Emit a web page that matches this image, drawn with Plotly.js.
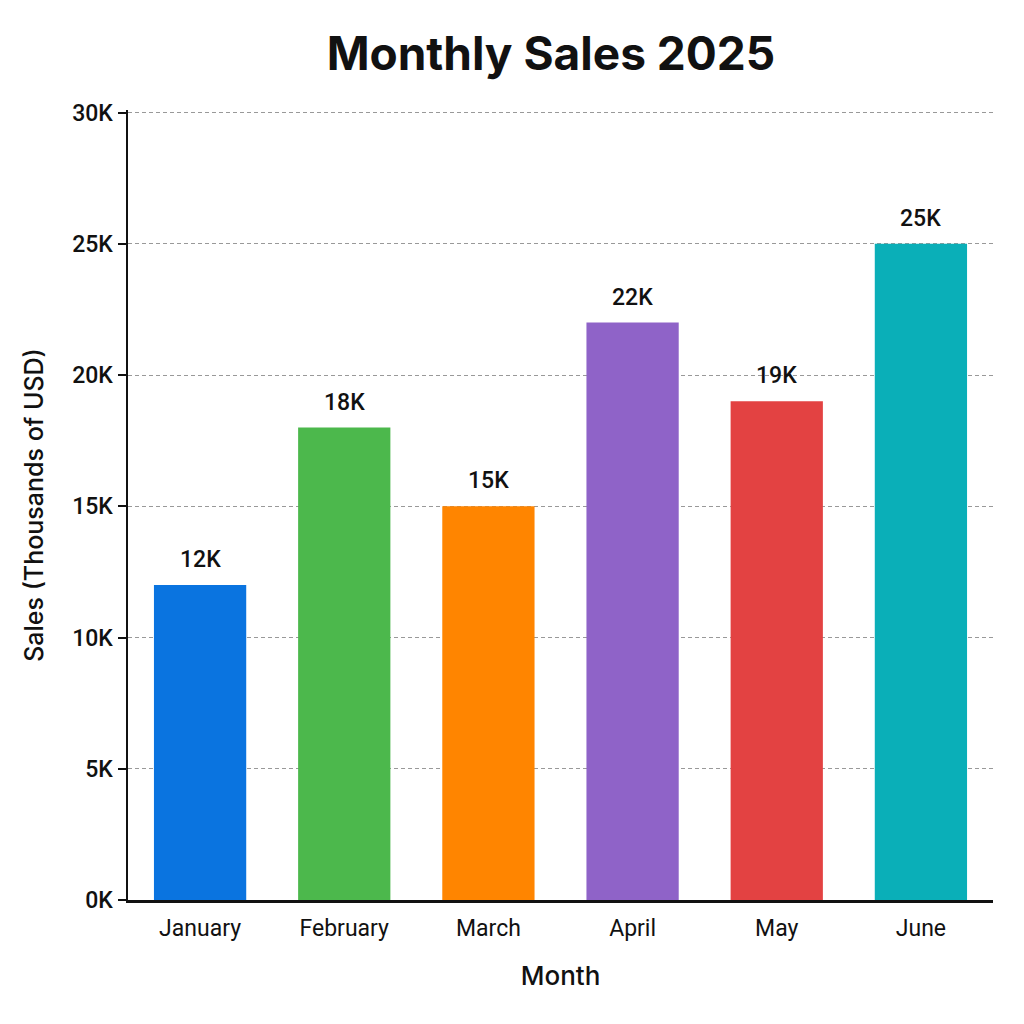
<!DOCTYPE html>
<html><head><meta charset="utf-8">
<script src="https://cdn.plot.ly/plotly-3.0.1.min.js"></script>
<style>html,body{margin:0;padding:0;background:#fff}#chart{width:1024px;height:1024px}</style>
</head><body><div id="chart"></div>
<script>
const months = ["January","February","March","April","May","June"];
const sales = [12, 18, 15, 22, 19, 25];
const colors = ["#0a74e0","#4cb84c","#ff8500","#8f63c8","#e34242","#0aafb8"];
const tickValues = [0,5,10,15,20,25,30];
const tickLabels = ["0K","5K","10K","15K","20K","25K","30K"];

const labelFont = {family: "Roboto, sans-serif", size: 23, color: "#111", weight: 500};

Plotly.newPlot("chart", [{
  type: "bar",
  x: months,
  y: sales,
  width: 0.64,
  marker: {color: colors},
  hoverinfo: "none"
}], {
  width: 1024, height: 1024,
  margin: {l: 128, r: 31, t: 110, b: 124},
  paper_bgcolor: "#fff", plot_bgcolor: "#fff",
  showlegend: false,
  title: {text: "<b>Monthly Sales 2025</b>", x: 0.538, xanchor: "center", y: 0.947, yanchor: "middle",
          font: {family: "Inter, Roboto, sans-serif", size: 46, color: "#111"}},
  annotations: months.map((m, i) => ({
    x: m, y: sales[i], xref: "x", yref: "y",
    text: sales[i] + "K", showarrow: false,
    yanchor: "bottom", yshift: 10,
    font: labelFont
  })),
  xaxis: {
    showline: true, linecolor: "#111", linewidth: 2.5,
    ticks: "", showgrid: false,
    ticklabelstandoff: 6,
    tickfont: {family: "Roboto, sans-serif", size: 23, color: "#111"},
    title: {text: "Month", standoff: 26, font: {family: "Inter, Roboto, sans-serif", size: 26, color: "#111", weight: 500}}
  },
  yaxis: {
    range: [0, 30.1],
    tickvals: tickValues, ticktext: tickLabels,
    showline: true, linecolor: "#111", linewidth: 2.5,
    ticks: "outside", ticklen: 8, tickwidth: 2, tickcolor: "#111",
    showgrid: true, gridcolor: "#999999", griddash: "4px,3px", gridwidth: 1,
    zeroline: false,
    tickfont: {family: "Roboto, sans-serif", size: 23, color: "#111", weight: 500},
    title: {text: "Sales (Thousands of USD)", standoff: 22, font: {family: "Inter, Roboto, sans-serif", size: 25, color: "#111", weight: 500}}
  }
}, {staticPlot: true});
</script></body></html>
